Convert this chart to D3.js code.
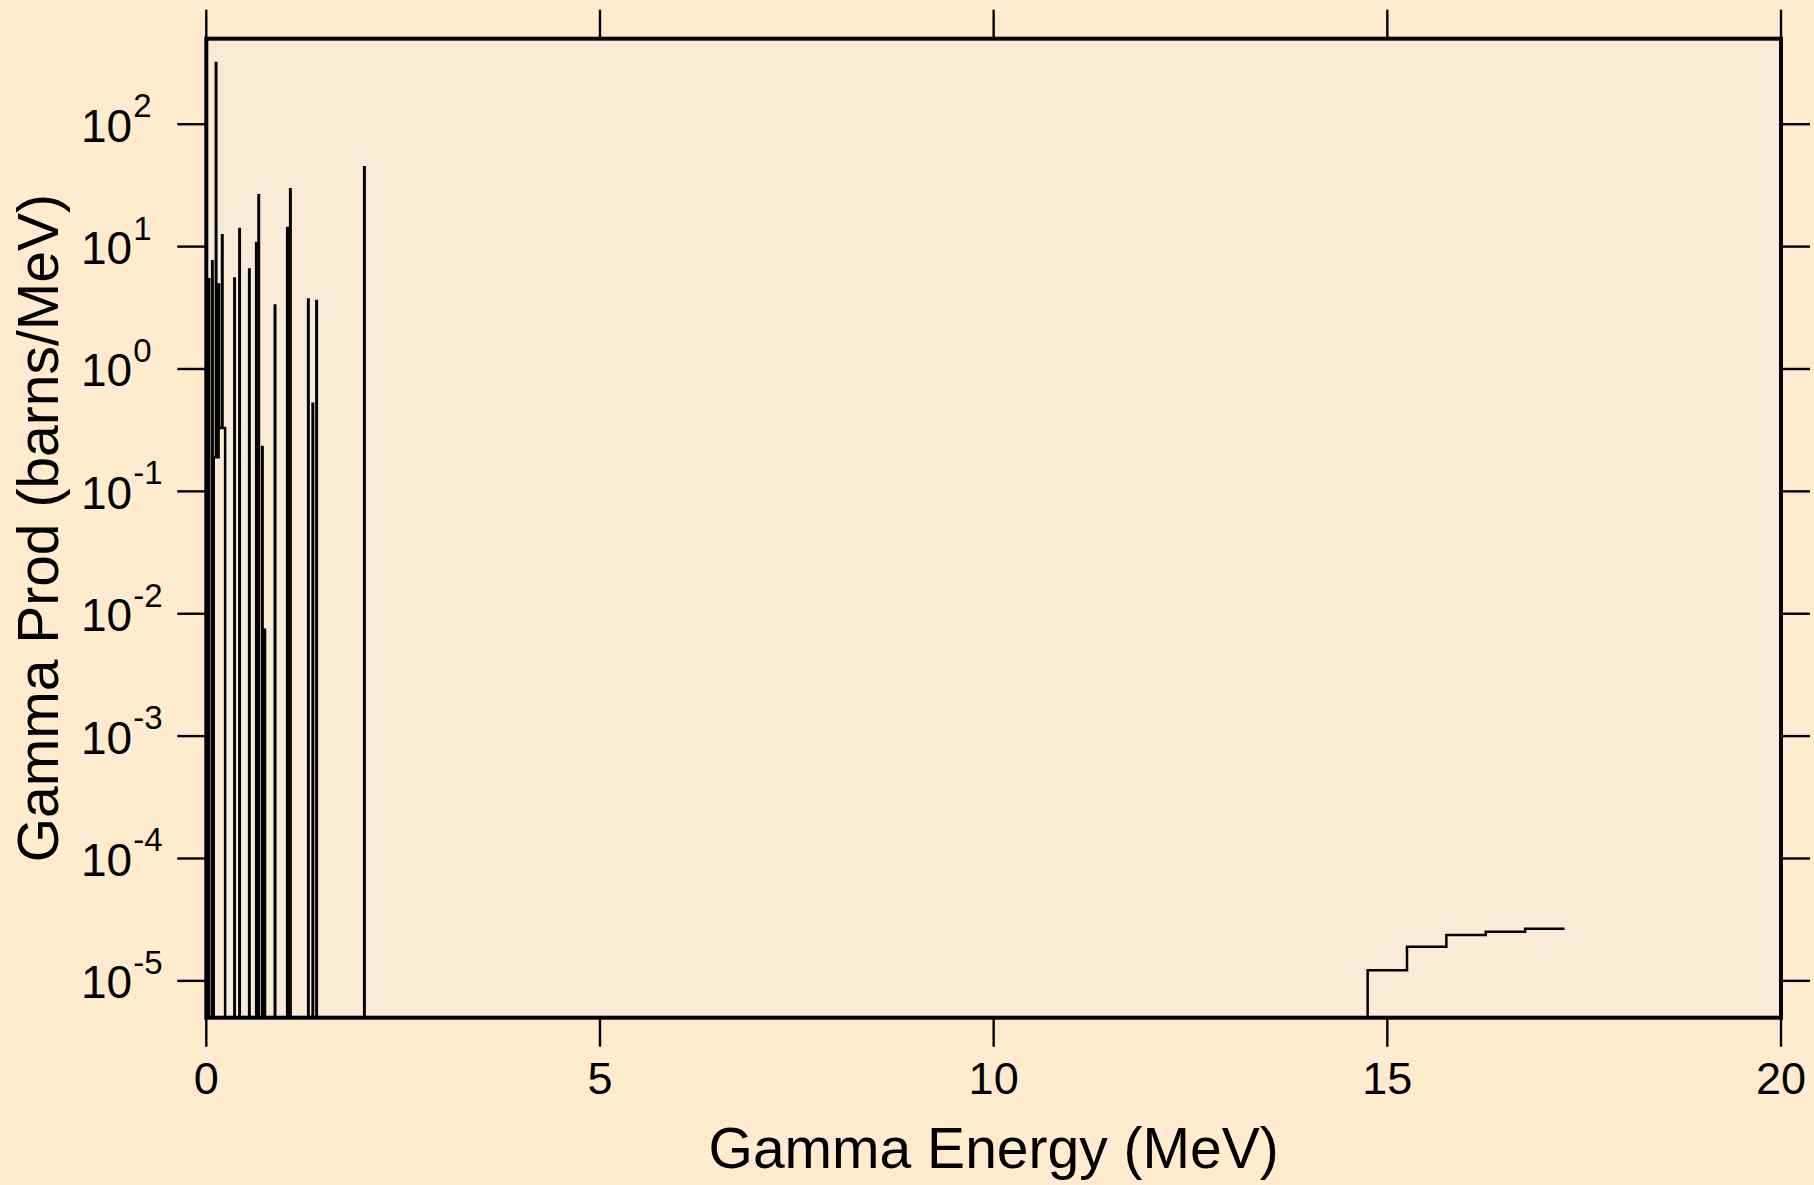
<!DOCTYPE html>
<html>
<head>
<meta charset="utf-8">
<script src="https://cdn.jsdelivr.net/npm/d3@7"></script>
<style>
  html, body { margin: 0; padding: 0; background: #FFEBCD; }
  svg { display: block; }
  text { font-family: "Liberation Sans", Arial, sans-serif; fill: #000; }
</style>
</head>
<body>
<svg id="chart" width="1814" height="1185"></svg>
<script>
// ---- data ----
// discrete gamma lines: energy (MeV) and production (barns/MeV)
const lineEnergy = [0.030, 0.074, 0.121, 0.156, 0.200, 0.356, 0.420, 0.544, 0.633, 0.663,
                    0.709, 0.740, 0.870, 1.027, 1.065, 1.293, 1.350, 1.398, 2.005];
const lineValue  = [5.4, 7.6, 317, 4.9, 12.4, 5.5, 13.9, 6.5, 10.7, 26.3,
                    0.23, 0.0074, 3.3, 14.2, 29.4, 3.7, 0.52, 3.6, 44.6];
const lineWidthMeV = 0.006;
// low-energy continuum under the lines
const contStart = [0.095, 0.159];
const contEnd   = [0.159, 0.239];
const contValue = [0.19, 0.33];
// high-energy continuum histogram (bin edges, values)
const stepEdges  = [14.75, 15.25, 15.75, 16.25, 16.75, 17.25];
const stepValues = [1.22e-5, 1.90e-5, 2.37e-5, 2.52e-5, 2.67e-5];
// axes
const xDomain = [0, 20];
const yDomain = [5e-6, 500];
const xTicks = [0, 5, 10, 15, 20];
const yTicks = [1e-5, 1e-4, 1e-3, 1e-2, 1e-1, 1e0, 1e1, 1e2];
const xTitle = "Gamma Energy (MeV)";
const yTitle = "Gamma Prod (barns/MeV)";

// ---- build the step curve from the intervals ----
const intervals = [];
lineEnergy.forEach((e, i) => intervals.push([e, e + lineWidthMeV, lineValue[i]]));
contStart.forEach((s, i) => intervals.push([s, contEnd[i], contValue[i]]));
stepValues.forEach((v, i) => intervals.push([stepEdges[i], stepEdges[i + 1], v]));
const lastE = stepEdges[stepEdges.length - 1];
const breaks = Array.from(new Set([0, ...intervals.flatMap(d => [d[0], d[1]])])).sort((a, b) => a - b);
const pts = [];
for (let i = 0; i < breaks.length - 1; i++) {
  const a = breaks[i], b = breaks[i + 1], m = (a + b) / 2;
  let v = 0;
  intervals.forEach(d => { if (m >= d[0] && m < d[1]) v = Math.max(v, d[2]); });
  pts.push([a, v]);
}
pts.push([lastE, pts[pts.length - 1][1]]);

// ---- layout ----
const svg = d3.select("#chart");
const L = 206.3, R = 1781, T = 38.7, B = 1017.7;
const x = d3.scaleLinear().domain(xDomain).range([L, R]);
const y = d3.scaleLog().domain(yDomain).range([B, T]);

svg.append("rect").attr("x", L).attr("y", T).attr("width", R - L).attr("height", B - T)
   .attr("fill", "#FAEBD7");

svg.append("defs").append("clipPath").attr("id", "clip")
   .append("rect").attr("x", L).attr("y", T).attr("width", R - L).attr("height", B - T);

const line = d3.line()
  .x(d => x(d[0]))
  .y(d => y(Math.max(d[1], yDomain[0])))
  .curve(d3.curveStepAfter);

svg.append("path").datum(pts)
  .attr("clip-path", "url(#clip)")
  .attr("d", line)
  .attr("fill", "none")
  .attr("stroke", "#000")
  .attr("stroke-width", 2.5);

// ticks
const tickLen = 29;
const ticksG = svg.append("g").attr("stroke", "#000").attr("stroke-width", 2.4);
xTicks.forEach(t => {
  ticksG.append("line").attr("x1", x(t)).attr("x2", x(t)).attr("y1", B).attr("y2", B + tickLen);
  ticksG.append("line").attr("x1", x(t)).attr("x2", x(t)).attr("y1", T).attr("y2", T - tickLen);
});
yTicks.forEach(t => {
  ticksG.append("line").attr("x1", L).attr("x2", L - tickLen).attr("y1", y(t)).attr("y2", y(t));
  ticksG.append("line").attr("x1", R).attr("x2", R + tickLen).attr("y1", y(t)).attr("y2", y(t));
});

// frame
svg.append("rect").attr("x", L).attr("y", T).attr("width", R - L).attr("height", B - T)
   .attr("fill", "none").attr("stroke", "#000").attr("stroke-width", 4);

// tick labels
xTicks.forEach(t => {
  svg.append("text").attr("x", x(t)).attr("y", B + 76).attr("text-anchor", "middle")
     .attr("font-size", 45).text(String(t));
});
yTicks.forEach(t => {
  const ex = Math.round(Math.log10(t));
  const tx = svg.append("text").attr("x", 81).attr("y", y(t) + 17.5).attr("font-size", 46);
  tx.append("tspan").text("10");
  tx.append("tspan").attr("dy", -24.5).attr("dx", 1).attr("font-size", 33).text(String(ex));
});

// axis titles
svg.append("text").attr("x", (L + R) / 2).attr("y", 1168).attr("text-anchor", "middle")
   .attr("font-size", 57).text(xTitle);
svg.append("text").attr("transform", `translate(58,${(T + B) / 2}) rotate(-90)`)
   .attr("text-anchor", "middle").attr("font-size", 57).text(yTitle);
</script>
</body>
</html>
